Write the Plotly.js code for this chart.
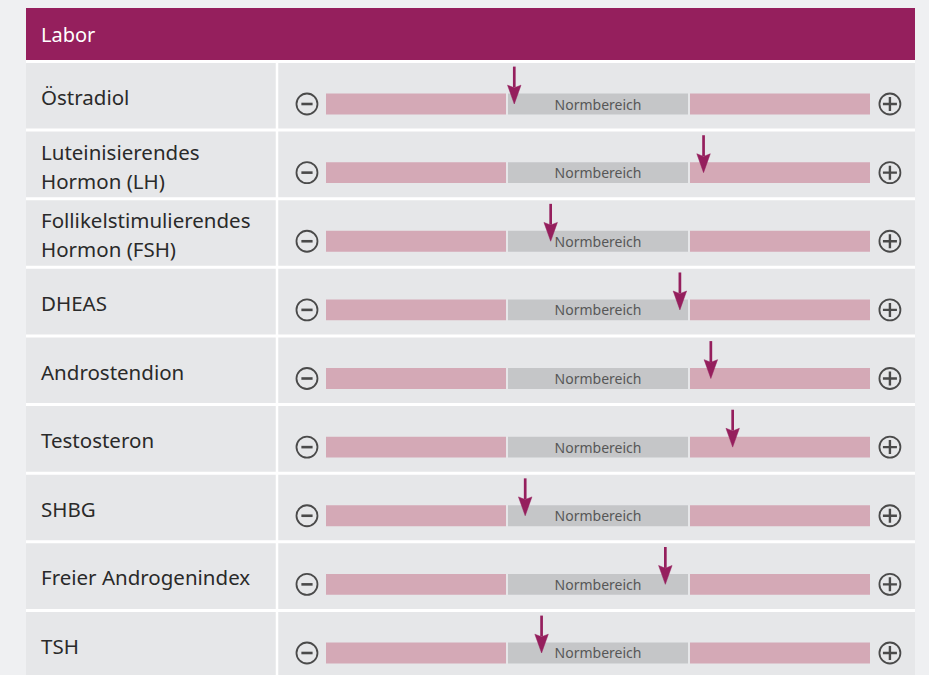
<!DOCTYPE html>
<html><head><meta charset="utf-8">
<script src="https://cdn.plot.ly/plotly-3.0.1.min.js"></script>
<style>html,body{margin:0;padding:0;background:#eff0f2;}</style>
</head><body><div id="chart" style="width:929px;height:675px;"></div>
<script>
// ---- data ----
const headerTitle = 'Labor';
const categories = ['Östradiol', 'Luteinisierendes<br>Hormon (LH)', 'Follikelstimulierendes<br>Hormon (FSH)', 'DHEAS', 'Androstendion', 'Testosteron', 'SHBG', 'Freier Androgenindex', 'TSH'];
const values = [1.04, 2.08, 1.24, 1.95, 2.12, 2.24, 1.10, 1.87, 1.19];
const zoneStart = [0, 1, 2];
const zoneEnd = [1, 2, 3];
const zoneLabels = ['', 'Normbereich', ''];

// ---- styling ----
const W = 929, H = 675;
const FONT = 'Noto Sans, sans-serif';
const PURPLE = '#951f5d';
const ROWBG = '#e6e7e9';
const zoneColors = ['#d4a9b6', '#c5c6c8', '#d4a9b6'];
const px = x => x / W;
const py = y => 1 - y / H;

const idx = categories.map((c, i) => i);
const traces = [];

zoneStart.forEach((s, z) => {
  traces.push({
    type: 'bar', orientation: 'h',
    y: idx, x: idx.map(() => zoneEnd[z] - s), base: s,
    width: 0.335,
    marker: {color: zoneColors[z], line: {color: ROWBG, width: 2}},
    text: idx.map(() => zoneLabels[z]),
    textposition: zoneLabels[z] ? 'inside' : 'none',
    insidetextanchor: 'middle',
    constraintext: 'none',
    textfont: {family: FONT, size: 14, color: '#575757'},
    hoverinfo: 'skip', showlegend: false
  });
});

// arrow shafts
traces.push({
  type: 'scatter', mode: 'lines',
  x: values.flatMap(v => [v, v, null]),
  y: idx.flatMap(i => [i - 0.545, i - 0.24, null]),
  line: {color: PURPLE, width: 2.7},
  hoverinfo: 'skip', showlegend: false
});
// arrow heads
const hw = 0.037;
traces.push({
  type: 'scatter', mode: 'lines', fill: 'toself', fillcolor: PURPLE,
  x: values.flatMap(v => [v - hw, v, v + hw, v, v - hw, null]),
  y: idx.flatMap(i => [i - 0.275, i - 0.235, i - 0.275, i, i - 0.275, null]),
  line: {color: PURPLE, width: 0.5},
  hoverinfo: 'skip', showlegend: false
});

// minus / plus icons
const minusX = zoneStart[0] - 0.099;
const plusX = zoneEnd[2] + 0.104;
const iconColor = '#4a4a4a';
traces.push({
  type: 'scatter', mode: 'markers',
  x: idx.map(() => minusX).concat(idx.map(() => plusX)),
  y: idx.concat(idx),
  marker: {symbol: 'circle-open', size: 21, color: iconColor, line: {width: 1.8, color: iconColor}},
  hoverinfo: 'skip', showlegend: false
});
traces.push({
  type: 'scatter', mode: 'markers',
  x: idx.map(() => minusX), y: idx,
  marker: {symbol: 'line-ew-open', size: 8, color: iconColor, line: {width: 2.6, color: iconColor}},
  hoverinfo: 'skip', showlegend: false
});
traces.push({
  type: 'scatter', mode: 'markers',
  x: idx.map(() => plusX), y: idx,
  marker: {symbol: 'cross-thin-open', size: 10, color: iconColor, line: {width: 2.4, color: iconColor}},
  hoverinfo: 'skip', showlegend: false
});

// ---- layout decorations ----
const shapes = [
  {type: 'rect', xref: 'paper', yref: 'paper', x0: px(26), x1: px(915), y0: py(60), y1: py(8), fillcolor: PURPLE, line: {width: 0}, layer: 'below'},
  {type: 'rect', xref: 'paper', yref: 'paper', x0: px(26), x1: px(915), y0: 0, y1: py(60), fillcolor: ROWBG, line: {width: 0}, layer: 'below'},
  {type: 'line', xref: 'paper', yref: 'paper', x0: px(277), x1: px(277), y0: 0, y1: py(61), line: {color: '#ffffff', width: 2.5}, layer: 'below'}
];
[-1].concat(idx).forEach(i => {
  shapes.push({type: 'line', xref: 'paper', yref: 'y', x0: px(26), x1: px(915), y0: i + 0.379, y1: i + 0.379, line: {color: '#ffffff', width: 3}, layer: 'below'});
});

const annotations = [
  {xref: 'paper', yref: 'paper', x: px(39), y: py(34), xanchor: 'left', yanchor: 'middle', text: headerTitle, showarrow: false, font: {family: FONT, size: 20, color: '#ffffff'}}
];
categories.forEach((c, i) => {
  const lines = c.split('<br>');
  const shifts = lines.length === 1 ? [7] : [21, -8];
  lines.forEach((t, k) => {
    annotations.push({xref: 'paper', yref: 'y', x: px(39), y: i, yshift: shifts[k], xanchor: 'left', yanchor: 'middle', text: t, showarrow: false, font: {family: FONT, size: 20.5, color: '#2a2a2a'}});
  });
});

const layout = {
  width: W, height: H,
  margin: {l: 0, r: 0, t: 0, b: 0, pad: 0},
  paper_bgcolor: '#eff0f2', plot_bgcolor: 'rgba(0,0,0,0)',
  barmode: 'overlay',
  xaxis: {range: [-1.7857, 3.3187], visible: false, fixedrange: true, domain: [0, 1]},
  yaxis: {range: [8.3206, -1.5155], visible: false, fixedrange: true, domain: [0, 1]},
  shapes: shapes, annotations: annotations,
  showlegend: false, hovermode: false
};

Plotly.newPlot('chart', traces, layout, {displayModeBar: false, staticPlot: true});
</script>
</body></html>
